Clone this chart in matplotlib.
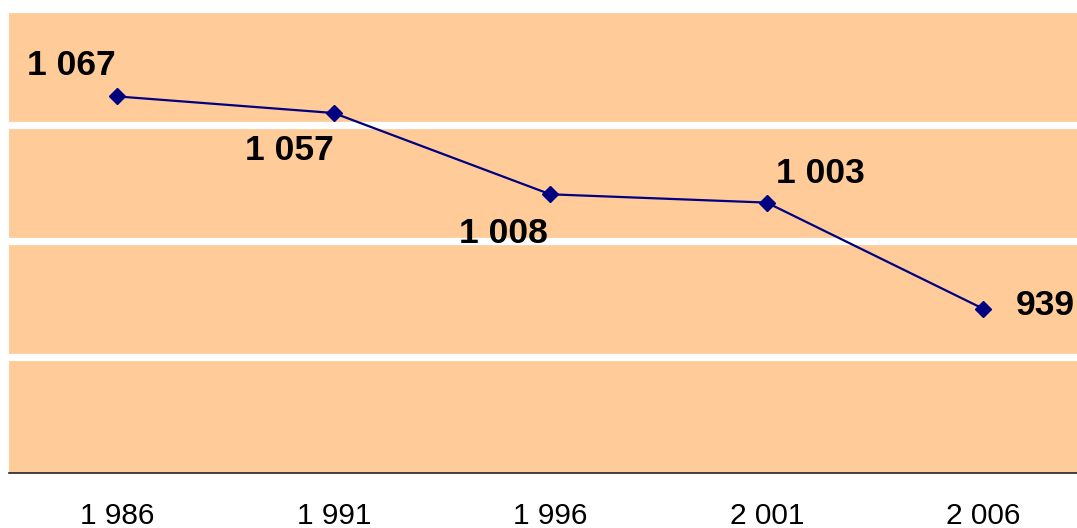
import matplotlib
matplotlib.use("Agg")
import matplotlib.pyplot as plt

# data
years = ["1 986", "1 991", "1 996", "2 001", "2 006"]
values = [1067, 1057, 1008, 1003, 939]
value_labels = ["1 067", "1 057", "1 008", "1 003", "939"]

# label placement relative to each marker (pixels): dx, dy, ha, va
label_pos = [
    (-2, 21, "right", "baseline"),
    (0, -21, "right", "top"),
    (-2, -23, "right", "top"),
    (9, 20, "left", "baseline"),
    (32, 3, "left", "center"),
]

plt.rcParams["font.family"] = ["Liberation Sans", "DejaVu Sans"]

W, H = 1077, 528
fig = plt.figure(figsize=(W / 100, H / 100), dpi=100)
fig.patch.set_facecolor("white")

# plot area: left 9px, top 8.5px, bottom 473px, category width ~216.5px
left, top, bottom = 9, 8.5, 473
width = 5 * 216.5
ax = fig.add_axes([left / W, 1 - bottom / H, width / W, (bottom - top) / H])
ax.set_facecolor("#FFCC99")

x = list(range(len(years)))
ax.set_xlim(-0.5, len(years) - 0.5)
ax.set_ylim(840, 1120)

for gy in [910, 980, 1050, 1120]:
    ax.axhline(gy, color="white", linewidth=5.2, zorder=1, clip_on=False)

ax.plot(x, values, color="#000080", linewidth=1.6, marker="D", markersize=8.5,
        markeredgecolor="#000080", markerfacecolor="#000080", zorder=3)

for xi, v, lab, (dx, dy, ha, va) in zip(x, values, value_labels, label_pos):
    ax.annotate(lab, (xi, v), xytext=(dx, dy), textcoords="offset pixels",
                ha=ha, va=va, fontsize=25.5, fontweight="bold", color="black",
                zorder=4)

ax.set_yticks([])
ax.set_xticks(x)
ax.set_xticklabels(years, fontsize=21.5)
ax.tick_params(axis="x", length=0, pad=21)

for side in ["top", "right", "left"]:
    ax.spines[side].set_visible(False)
ax.spines["bottom"].set_color("#222222")
ax.spines["bottom"].set_linewidth(1.2)

fig.savefig("out.png", dpi=100)
